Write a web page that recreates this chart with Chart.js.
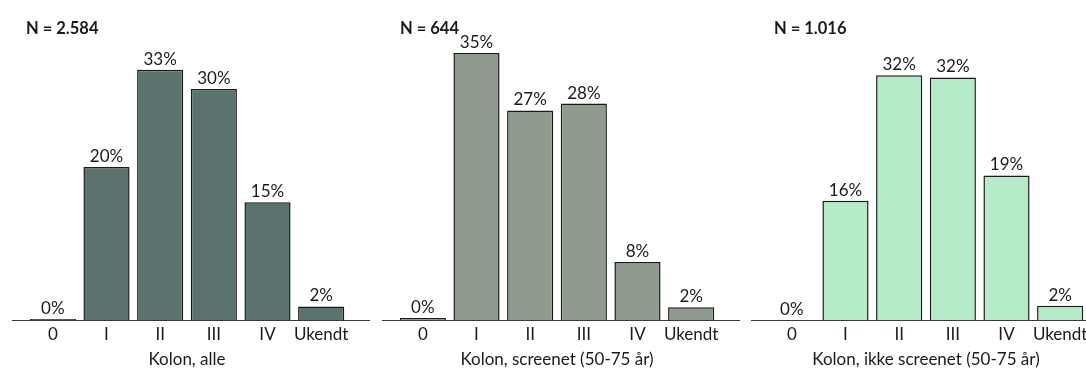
<!DOCTYPE html>
<html>
<head>
<meta charset="utf-8">
<script src="https://cdn.jsdelivr.net/npm/chart.js@4"></script>
<style>
  body { margin: 0; background: #fff; overflow: hidden; }
  #wrap { position: relative; width: 1086px; height: 368px; overflow: hidden; }
  canvas { position: absolute; top: 0; }
</style>
</head>
<body>
<div id="wrap">
  <canvas id="chart-alle" width="370" height="372" style="left:0px"></canvas>
  <canvas id="chart-screenet" width="370" height="372" style="left:370px"></canvas>
  <canvas id="chart-ikke" width="370" height="372" style="left:739px"></canvas>
</div>
<script>
const stages = ['0', 'I', 'II', 'III', 'IV', 'Ukendt'];

const alleValues = [0.15, 20.0, 32.7, 30.2, 15.4, 1.8];
const screenetValues = [0.3, 34.9, 27.4, 28.3, 7.6, 1.7];
const ikkeScreenetValues = [0, 15.6, 32.0, 31.7, 18.9, 1.9];

const panelTitles = ['N = 2.584', 'N = 644', 'N = 1.016'];
const axisTitles = ['Kolon, alle', 'Kolon, screenet (50-75 år)', 'Kolon, ikke screenet (50-75 år)'];
const barColors = ['#5a736f', '#8f9b8e', '#b5ebc9'];

const yMax = 36.6;
const fontFamily = 'Lato, "Open Sans", sans-serif';

// baseline, value labels and the "N = ..." heading
const panelDecor = {
    id: 'panelDecor',
    afterDatasetsDraw(chart, args, opts) {
        let ctx = chart.ctx;
        let area = chart.chartArea;
        let yZero = Math.round(chart.scales.y.getPixelForValue(0));
        ctx.save();
        ctx.strokeStyle = '#3a3a3a';
        ctx.lineWidth = 1;
        ctx.beginPath();
        ctx.moveTo(area.left - 14, yZero + 0.5);
        ctx.lineTo(area.right + 22, yZero + 0.5);
        ctx.stroke();

        ctx.fillStyle = '#1a1a1a';
        ctx.font = '17px ' + fontFamily;
        ctx.textAlign = 'center';
        ctx.textBaseline = 'bottom';
        let values = chart.data.datasets[0].data;
        chart.getDatasetMeta(0).data.forEach((bar, i) => {
            ctx.fillText(Math.round(values[i]) + '%', bar.x, bar.y - 2);
        });

        ctx.font = 'bold 16.5px ' + fontFamily;
        ctx.textAlign = 'left';
        ctx.textBaseline = 'middle';
        ctx.fillText(opts.text, area.left + opts.dx, 29);
        ctx.restore();
    }
};

function makePanel(canvasId, values, color, title, axisTitle, titleDx) {
    let ctx = document.getElementById(canvasId).getContext('2d');
    return new Chart(ctx, {
        type: 'bar',
        data: {
            labels: stages,
            datasets: [{
                data: values,
                backgroundColor: color,
                borderColor: '#1a1a1a',
                borderWidth: 1.5,
                categoryPercentage: 1,
                barPercentage: 0.86
            }]
        },
        options: {
            responsive: false,
            animation: false,
            layout: { padding: { left: 26, right: 22, top: 40, bottom: 0 } },
            plugins: {
                legend: { display: false },
                tooltip: { enabled: false },
                panelDecor: { text: title, dx: titleDx }
            },
            scales: {
                x: {
                    grid: { display: false, drawTicks: false },
                    border: { display: false },
                    ticks: {
                        color: '#1a1a1a',
                        font: { family: fontFamily, size: 17 },
                        padding: 4,
                        maxRotation: 0,
                        minRotation: 0,
                        autoSkip: false
                    },
                    title: {
                        display: true,
                        text: axisTitle,
                        color: '#1a1a1a',
                        font: { family: fontFamily, size: 17 },
                        padding: { top: 1, bottom: 2 }
                    }
                },
                y: {
                    display: false,
                    min: 0,
                    max: yMax
                }
            }
        },
        plugins: [panelDecor]
    });
}

makePanel('chart-alle', alleValues, barColors[0], panelTitles[0], axisTitles[0], 0);
makePanel('chart-screenet', screenetValues, barColors[1], panelTitles[1], axisTitles[1], 4);
makePanel('chart-ikke', ikkeScreenetValues, barColors[2], panelTitles[2], axisTitles[2], 9);
</script>
</body>
</html>
